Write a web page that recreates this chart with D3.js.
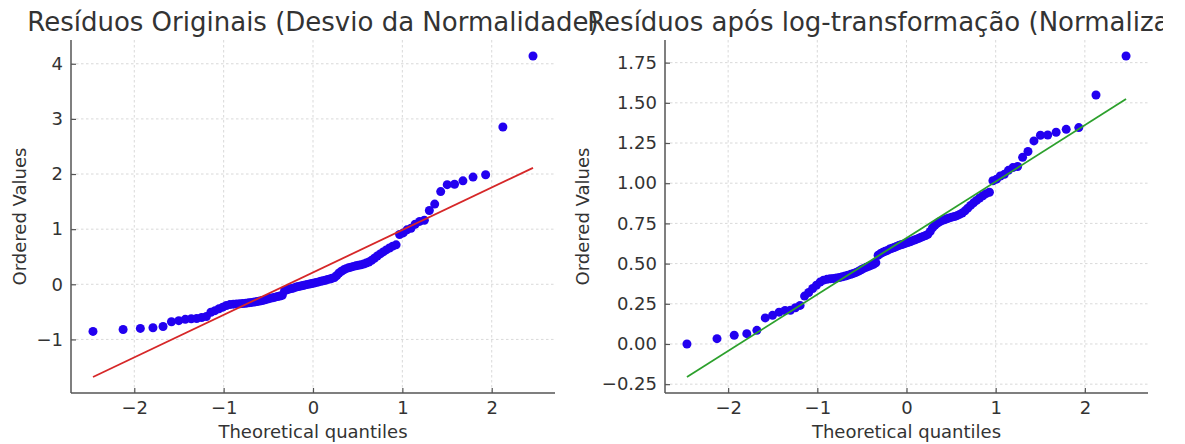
<!DOCTYPE html>
<html>
<head>
<meta charset="utf-8">
<title>Q-Q plots dos resíduos</title>
<script src="https://d3js.org/d3.v7.min.js"></script>
<style>
  body { margin: 0; background: #fff; }
  svg text { font-family: "DejaVu Sans", sans-serif; fill: #333; }
</style>
</head>
<body>
<div id="chart"></div>
<script>
// theoretical quantiles (normal order statistic medians, n = 100)
var quantiles = [
  -2.462, -2.125, -1.932, -1.791, -1.678, -1.584, -1.502, -1.429, -1.362, -1.302,
  -1.246, -1.193, -1.143, -1.097, -1.052, -1.010, -0.969, -0.930, -0.892, -0.856,
  -0.820, -0.786, -0.752, -0.719, -0.687, -0.656, -0.625, -0.595, -0.566, -0.537,
  -0.508, -0.480, -0.452, -0.424, -0.397, -0.370, -0.344, -0.318, -0.291, -0.266,
  -0.240, -0.214, -0.189, -0.164, -0.138, -0.113, -0.088, -0.063, -0.038, -0.013,
   0.013,  0.038,  0.063,  0.088,  0.113,  0.138,  0.164,  0.189,  0.214,  0.240,
   0.266,  0.291,  0.318,  0.344,  0.370,  0.397,  0.424,  0.452,  0.480,  0.508,
   0.537,  0.566,  0.595,  0.625,  0.656,  0.687,  0.719,  0.752,  0.786,  0.820,
   0.856,  0.892,  0.930,  0.969,  1.010,  1.052,  1.097,  1.143,  1.193,  1.246,
   1.302,  1.362,  1.429,  1.502,  1.584,  1.678,  1.791,  1.932,  2.125,  2.462
];

// ordered residuals, original
var residOrig = [
  -0.855, -0.821, -0.800, -0.789, -0.766, -0.679, -0.660, -0.636, -0.624, -0.621,
  -0.603, -0.584, -0.508, -0.478, -0.443, -0.415, -0.385, -0.368, -0.360, -0.356,
  -0.353, -0.348, -0.344, -0.336, -0.329, -0.321, -0.313, -0.304, -0.295, -0.282,
  -0.268, -0.255, -0.244, -0.234, -0.223, -0.213, -0.198, -0.118, -0.101, -0.087,
  -0.076, -0.065, -0.051, -0.042, -0.033, -0.022, -0.011, -0.002,  0.006,  0.015,
   0.024,  0.034,  0.043,  0.055,  0.064,  0.074,  0.088,  0.097,  0.109,  0.123,
   0.159,  0.204,  0.237,  0.262,  0.283,  0.298,  0.311,  0.324,  0.335,  0.346,
   0.355,  0.366,  0.384,  0.404,  0.434,  0.473,  0.513,  0.551,  0.587,  0.624,
   0.659,  0.692,  0.715,  0.904,  0.932,  0.988,  1.017,  1.090,  1.140,  1.161,
   1.338,  1.455,  1.681,  1.807,  1.814,  1.877,  1.945,  1.987,  2.852,  4.140
];

// ordered residuals after log transform
var residLog = [
  0.000, 0.033, 0.054, 0.064, 0.085, 0.162, 0.178, 0.198, 0.208, 0.210,
  0.225, 0.240, 0.298, 0.320, 0.345, 0.365, 0.385, 0.397, 0.402, 0.405,
  0.407, 0.410, 0.413, 0.418, 0.423, 0.428, 0.433, 0.439, 0.445, 0.453,
  0.462, 0.470, 0.477, 0.483, 0.490, 0.496, 0.505, 0.552, 0.562, 0.570,
  0.576, 0.582, 0.590, 0.595, 0.600, 0.606, 0.612, 0.617, 0.621, 0.626,
  0.631, 0.636, 0.641, 0.647, 0.652, 0.657, 0.664, 0.669, 0.675, 0.682,
  0.700, 0.722, 0.738, 0.750, 0.760, 0.767, 0.773, 0.779, 0.784, 0.789,
  0.793, 0.798, 0.806, 0.815, 0.828, 0.845, 0.862, 0.878, 0.893, 0.908,
  0.922, 0.935, 0.944, 1.015, 1.025, 1.045, 1.055, 1.080, 1.097, 1.104,
  1.161, 1.197, 1.263, 1.298, 1.300, 1.317, 1.335, 1.346, 1.549, 1.791
];

// least squares lines [slope, intercept]
var fitOrig = [0.770, 0.215];
var fitLog = [0.351, 0.659];

var xTicks = [-2, -1, 0, 1, 2];
var yTicksOrig = [-1, 0, 1, 2, 3, 4];
var yTicksLog = [-0.25, 0, 0.25, 0.5, 0.75, 1.0, 1.25, 1.5, 1.75];

var titles = ["Resíduos Originais (Desvio da Normalidade)",
              "Resíduos após log-transformação (Normalização)"];

// figure is narrower than the window, the second title runs past its edge
var width = 1163, height = 444;

var svg = d3.select("#chart").append("svg")
    .attr("width", width)
    .attr("height", height);

// matplotlib style 5% margins
function padded(ext) {
  var d = (ext[1] - ext[0]) * 0.05;
  return [ext[0] - d, ext[1] + d];
}

function qqPanel(left, right, values, fit, yTicks, yFmt, lineColor, title, ylabelX) {
  var top = 40, bottom = 393;
  var xExt = d3.extent(quantiles);
  var lineY = xExt.map(function(q) { return fit[0] * q + fit[1]; });
  var yExt = d3.extent(values.concat(lineY));

  var x = d3.scaleLinear().domain(padded(xExt)).range([left, right]);
  var y = d3.scaleLinear().domain(padded(yExt)).range([bottom, top]);

  var g = svg.append("g");

  // dashed grid
  g.selectAll(".vgrid").data(xTicks).enter().append("line")
    .attr("x1", function(d) { return x(d); }).attr("x2", function(d) { return x(d); })
    .attr("y1", top).attr("y2", bottom)
    .attr("stroke", "#cfcfcf").attr("stroke-width", 0.8)
    .attr("stroke-dasharray", "2.5,2.5");
  g.selectAll(".hgrid").data(yTicks).enter().append("line")
    .attr("x1", left).attr("x2", right)
    .attr("y1", function(d) { return y(d); }).attr("y2", function(d) { return y(d); })
    .attr("stroke", "#cfcfcf").attr("stroke-width", 0.8)
    .attr("stroke-dasharray", "2.5,2.5");

  // points
  g.selectAll("circle").data(values).enter().append("circle")
    .attr("cx", function(d, i) { return x(quantiles[i]); })
    .attr("cy", function(d) { return y(d); })
    .attr("r", 4.5)
    .attr("fill", "#2200f0");

  // fitted line
  g.append("line")
    .attr("x1", x(xExt[0])).attr("y1", y(lineY[0]))
    .attr("x2", x(xExt[1])).attr("y2", y(lineY[1]))
    .attr("stroke", lineColor).attr("stroke-width", 1.8);

  // axes (left + bottom spines only, ticks inside)
  var xAxis = d3.axisBottom(x).tickValues(xTicks).tickFormat(d3.format("d"))
    .tickSizeInner(-5).tickSizeOuter(0).tickPadding(8);
  var yAxis = d3.axisLeft(y).tickValues(yTicks).tickFormat(d3.format(yFmt))
    .tickSizeInner(-5).tickSizeOuter(0).tickPadding(8);

  var gx = svg.append("g").attr("transform", "translate(0," + bottom + ")").call(xAxis);
  var gy = svg.append("g").attr("transform", "translate(" + left + ",0)").call(yAxis);
  [gx, gy].forEach(function(a) {
    a.select(".domain").attr("stroke", "#555").attr("stroke-width", 1.5);
    a.selectAll(".tick line").attr("stroke", "#555").attr("stroke-width", 1.2);
    a.selectAll(".tick text").style("font-size", "18px").attr("fill", "#333");
  });
  gx.select(".domain").attr("d", "M" + left + ",0H" + right);
  gy.select(".domain").attr("d", "M0," + top + "V" + bottom);

  var cx = (left + right) / 2;
  svg.append("text")
    .attr("x", cx).attr("y", 31)
    .attr("text-anchor", "middle")
    .style("font-size", "26px")
    .text(title);

  svg.append("text")
    .attr("x", cx).attr("y", 438)
    .attr("text-anchor", "middle")
    .style("font-size", "18px")
    .text("Theoretical quantiles");

  svg.append("text")
    .attr("transform", "translate(" + ylabelX + "," + ((top + bottom) / 2) + ") rotate(-90)")
    .attr("text-anchor", "middle")
    .style("font-size", "18px")
    .text("Ordered Values");
}

qqPanel(71, 555, residOrig, fitOrig, yTicksOrig, "d", "#d62728", titles[0], 26);
qqPanel(665, 1148, residLog, fitLog, yTicksLog, ".2f", "#2ca02c", titles[1], 589);
</script>
</body>
</html>
